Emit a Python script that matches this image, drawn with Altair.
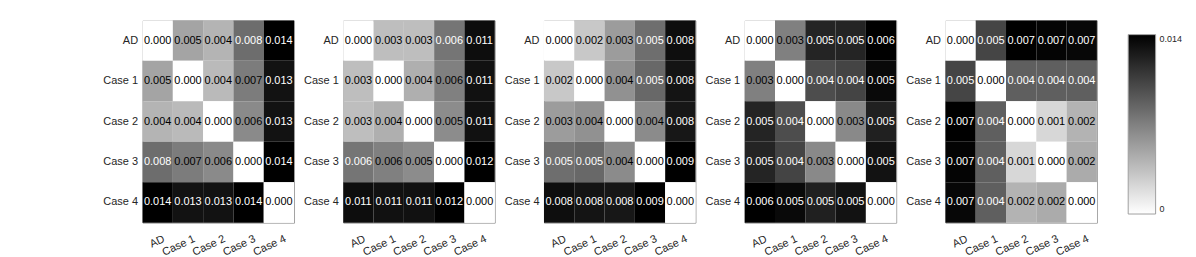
import altair as alt
import pandas as pd

LABELS = ["AD", "Case 1", "Case 2", "Case 3", "Case 4"]

P1 = [
    [0.0000, 0.0050, 0.0041, 0.0080, 0.0140],
    [0.0050, 0.0000, 0.0038, 0.0072, 0.0130],
    [0.0041, 0.0038, 0.0000, 0.0064, 0.0130],
    [0.0080, 0.0072, 0.0064, 0.0000, 0.0140],
    [0.0140, 0.0130, 0.0130, 0.0140, 0.0000],
]
P2 = [
    [0.0000, 0.0030, 0.0030, 0.0064, 0.0112],
    [0.0030, 0.0000, 0.0037, 0.0059, 0.0110],
    [0.0030, 0.0037, 0.0000, 0.0053, 0.0110],
    [0.0064, 0.0059, 0.0053, 0.0000, 0.0118],
    [0.0112, 0.0110, 0.0110, 0.0118, 0.0000],
]
P3 = [
    [0.0000, 0.0019, 0.0034, 0.0050, 0.0083],
    [0.0019, 0.0000, 0.0038, 0.0052, 0.0081],
    [0.0034, 0.0038, 0.0000, 0.0040, 0.0080],
    [0.0050, 0.0052, 0.0040, 0.0000, 0.0088],
    [0.0083, 0.0081, 0.0080, 0.0088, 0.0000],
]
P4 = [
    [0.0000, 0.0028, 0.0048, 0.0048, 0.0056],
    [0.0028, 0.0000, 0.0039, 0.0041, 0.0054],
    [0.0048, 0.0039, 0.0000, 0.0026, 0.0049],
    [0.0048, 0.0041, 0.0026, 0.0000, 0.0052],
    [0.0056, 0.0054, 0.0049, 0.0052, 0.0000],
]
P5 = [
    [0.0000, 0.0051, 0.0070, 0.0069, 0.0068],
    [0.0051, 0.0000, 0.0044, 0.0044, 0.0044],
    [0.0070, 0.0044, 0.0000, 0.0011, 0.0021],
    [0.0069, 0.0044, 0.0011, 0.0000, 0.0023],
    [0.0068, 0.0044, 0.0021, 0.0023, 0.0000],
]
PANELS = [P1, P2, P3, P4, P5]
CBAR_VALUES = [0.0, 0.014]

FONT = "Liberation Sans"
W, H = 152, 203
GRAY_RANGE = ["#ffffff", "#000000"]


def panel(mat):
    vmax = max(max(r) for r in mat)
    rows = []
    for i, rl in enumerate(LABELS):
        for j, cl in enumerate(LABELS):
            v = mat[i][j]
            rows.append({"row": rl, "col": cl, "v": v,
                         "tc": "#ffffff" if v / vmax > 0.53 else "#000000"})
    df = pd.DataFrame(rows)
    base = alt.Chart(df).encode(
        x=alt.X("col:N", sort=LABELS, title=None,
                scale=alt.Scale(paddingInner=0, paddingOuter=0),
                axis=alt.Axis(labelAngle=335, labelAlign="right", labelBaseline="top",
                              labelPadding=10, labelOffset=4, ticks=False, domain=False,
                              maxExtent=20, labelFontSize=11, labelFont=FONT,
                              labelColor="#262626")),
        y=alt.Y("row:N", sort=LABELS, title=None,
                scale=alt.Scale(paddingInner=0, paddingOuter=0),
                axis=alt.Axis(ticks=False, domain=False, minExtent=40, maxExtent=40,
                              labelPadding=5, labelFontSize=11, labelFont=FONT,
                              labelColor="#262626")),
    )
    rect = base.mark_rect().encode(
        color=alt.Color("v:Q", legend=None,
                        scale=alt.Scale(domain=[0, vmax], range=GRAY_RANGE, interpolate="rgb"))
    )
    text = base.mark_text(font=FONT, fontSize=11).encode(
        text=alt.Text("v:Q", format=".3f"),
        color=alt.Color("tc:N", scale=None),
    )
    return alt.layer(rect, text).resolve_scale(color="independent").properties(width=W, height=H)


cbar_df = pd.DataFrame({"v": CBAR_VALUES})
cbar = alt.Chart(cbar_df).mark_rect(opacity=0).encode(
    color=alt.Color(
        "v:Q",
        scale=alt.Scale(domain=CBAR_VALUES, range=GRAY_RANGE, interpolate="rgb"),
        legend=alt.Legend(title=None, orient="none", legendX=23, legendY=14.3,
                          direction="vertical", gradientLength=180, gradientThickness=27.5,
                          values=CBAR_VALUES,
                          labelExpr="datum.value == 0 ? '0' : format(datum.value, '.3f')",
                          labelFontSize=9, labelFont=FONT,
                          labelColor="#262626", gradientStrokeColor="#a0a0a0",
                          gradientStrokeWidth=1, labelBaseline="middle", labelOffset=4),
    )
).properties(width=1, height=H, view=alt.ViewBackground(strokeOpacity=0))

chart = alt.hconcat(*[panel(m) for m in PANELS], cbar, spacing=7.4).resolve_scale(
    color="independent"
).properties(
    padding={"left": 94, "top": 11, "right": 5, "bottom": 0}
).configure_view(stroke="#a0a0a0", strokeWidth=1)

chart.save("out.html", embed_options={"renderer": "svg", "actions": False})
